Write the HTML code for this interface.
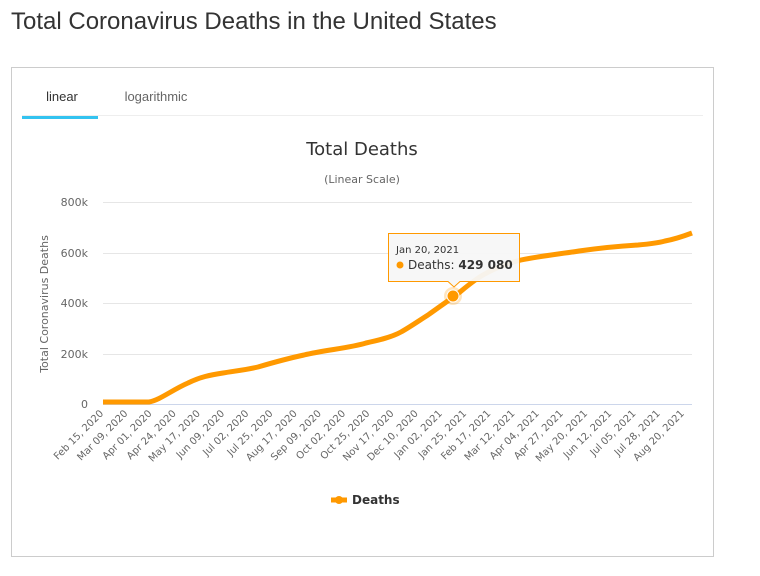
<!DOCTYPE html>
<html><head><style>
body{margin:0;width:760px;height:576px;background:#fff;overflow:hidden;position:relative;font-family:"Liberation Sans",Arial,sans-serif}
h1{position:absolute;left:11px;top:8px;margin:0;font-weight:normal;font-size:24px;color:#333}
</style></head><body>
<h1>Total Coronavirus Deaths in the United States</h1>
<svg width="760" height="576" style="position:absolute;left:0;top:0">
<rect x="11.5" y="67.5" width="702" height="489" fill="none" stroke="#ccc"/>
<line x1="22" y1="115.5" x2="703" y2="115.5" stroke="#eee"/>
<rect x="22" y="116" width="76" height="3" fill="#33c3f0"/>
<text x="62" y="101" font-size="13" fill="#333" text-anchor="middle">linear</text>
<text x="156" y="101" font-size="13" fill="#666" text-anchor="middle">logarithmic</text>
<g font-family="DejaVu Sans,sans-serif">
<text x="362" y="155" font-size="18" fill="#333" text-anchor="middle">Total Deaths</text>
<text x="362" y="183" font-size="11" fill="#666" text-anchor="middle">(Linear Scale)</text>
</g>
<g stroke="#e6e6e6">
<line x1="103" y1="202.5" x2="692" y2="202.5"/>
<line x1="103" y1="253.5" x2="692" y2="253.5"/>
<line x1="103" y1="303.5" x2="692" y2="303.5"/>
<line x1="103" y1="354.5" x2="692" y2="354.5"/>
</g>
<line x1="103" y1="404.5" x2="692" y2="404.5" stroke="#ccd6eb"/>
<g font-size="11" fill="#666" text-anchor="end" font-family="DejaVu Sans,sans-serif">
<text x="88" y="206">800k</text><text x="88" y="257">600k</text><text x="88" y="307">400k</text><text x="88" y="358">200k</text><text x="88" y="408">0</text>
<text transform="translate(48,304) rotate(-90)" text-anchor="middle">Total Coronavirus Deaths</text>
</g>
<g font-size="10" fill="#666" text-anchor="end" font-family="DejaVu Sans,sans-serif" id="xl"></g>
<path d="M103,402 L149,402 C160,400 172,390 188,383 C200,377 210,375 223,373 C235,371 245,370 258,367 C275,362 290,358 304,355 C325,350 350,348 366,343 C380,340 392,337 401,332 C410,327 420,320 428,315 C438,308 446,302 455,296 C465,288 474,280 483,275 C495,268 508,263 521,260 C540,256 560,254 579,251 C600,248 620,246 638,245 C650,244 658,243 665,241 C676,239 684,236 692,233" fill="none" stroke="#f90" stroke-width="5" stroke-linejoin="round"/>
<circle cx="453" cy="296" r="9" fill="#f90" opacity="0.25"/>
<circle cx="453" cy="296" r="6" fill="#f90" stroke="#fff" stroke-width="1"/>
<path d="M388.5,233.5 H519.5 V281.5 H460 L454,287 L448,281.5 H388.5 Z" fill="#f7f7f7" fill-opacity="0.95" stroke="#f90"/>
<text x="396" y="253" font-size="10" fill="#333" font-family="DejaVu Sans,sans-serif">Jan 20, 2021</text>
<circle cx="400" cy="265" r="3.5" fill="#f90"/>
<text x="408" y="269" font-size="12" fill="#333" font-family="DejaVu Sans,sans-serif">Deaths: <tspan font-weight="bold">429 080</tspan></text>
<line x1="331" y1="500" x2="347" y2="500" stroke="#f90" stroke-width="5"/>
<circle cx="339" cy="500" r="4" fill="#f90"/>
<text x="352" y="504" font-size="12" font-weight="bold" fill="#333" font-family="DejaVu Sans,sans-serif">Deaths</text>
</svg>
<script>
var L=["Feb 15, 2020","Mar 09, 2020","Apr 01, 2020","Apr 24, 2020","May 17, 2020","Jun 09, 2020","Jul 02, 2020","Jul 25, 2020","Aug 17, 2020","Sep 09, 2020","Oct 02, 2020","Oct 25, 2020","Nov 17, 2020","Dec 10, 2020","Jan 02, 2021","Jan 25, 2021","Feb 17, 2021","Mar 12, 2021","Apr 04, 2021","Apr 27, 2021","May 20, 2021","Jun 12, 2021","Jul 05, 2021","Jul 28, 2021","Aug 20, 2021"];
var g=document.getElementById("xl"),s="";
for(var i=0;i<L.length;i++){var x=(104+i*24.2).toFixed(1);s+='<text transform="translate('+x+',414) rotate(-45)">'+L[i]+'</text>';}
g.innerHTML=s;
</script>
</body></html>
